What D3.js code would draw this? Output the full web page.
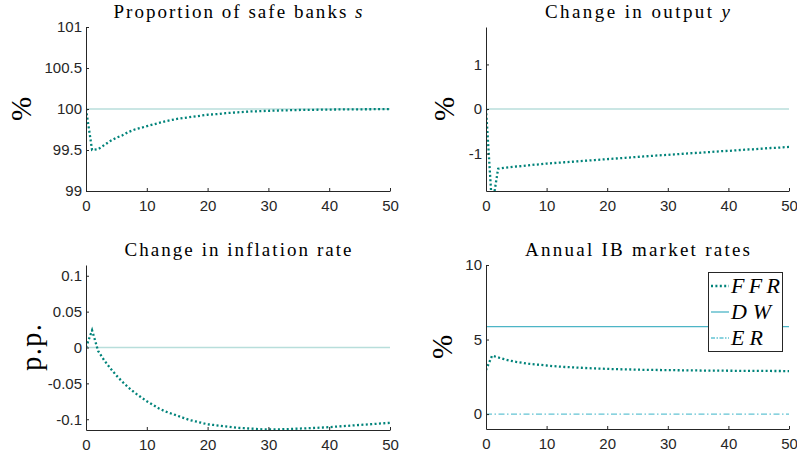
<!DOCTYPE html>
<html>
<head>
<meta charset="utf-8">
<script src="https://cdn.jsdelivr.net/npm/d3@7"></script>
<style>
  html, body { margin: 0; padding: 0; background: #fff; }
  svg { display: block; }
  .tick-label { font-family: "Liberation Sans", Arial, Helvetica, sans-serif; font-size: 15px; fill: #262626; }
  .title { font-family: "Liberation Serif", "DejaVu Serif", serif; font-size: 19px; fill: #000; }
  .ylab { font-family: "Liberation Serif", "DejaVu Serif", serif; font-size: 29px; fill: #000; }
  .leg { font-family: "Liberation Serif", "DejaVu Serif", serif; font-style: italic; font-size: 22px; fill: #000; }
</style>
</head>
<body>
<svg id="chart" width="797" height="459"></svg>
<script>
// Horizon (quarters after the shock)
const horizon = d3.range(0, 51);

// Proportion of safe banks, % of steady state
const safeBanks = [100, 99.50, 99.51, 99.56, 99.61, 99.65, 99.68, 99.72, 99.75, 99.77,
  99.79, 99.81, 99.83, 99.85, 99.865, 99.88, 99.89, 99.90, 99.91, 99.92,
  99.93, 99.935, 99.94, 99.95, 99.955, 99.96, 99.965, 99.97, 99.972, 99.975,
  99.978, 99.98, 99.982, 99.984, 99.986, 99.988, 99.989, 99.99, 99.991, 99.992,
  99.993, 99.994, 99.995, 99.995, 99.996, 99.996, 99.997, 99.997, 99.998, 99.998, 99.999];
const safeBanksSteady = 100;

// Change in output, %
const output = [0, -2.2, -1.34, -1.32, -1.305, -1.29, -1.28, -1.265, -1.25, -1.24,
  -1.225, -1.215, -1.205, -1.195, -1.185, -1.175, -1.165, -1.155, -1.145, -1.135,
  -1.125, -1.115, -1.105, -1.095, -1.085, -1.075, -1.065, -1.055, -1.045, -1.035,
  -1.03, -1.02, -1.01, -1.0, -0.99, -0.985, -0.975, -0.965, -0.955, -0.945,
  -0.94, -0.93, -0.92, -0.91, -0.905, -0.895, -0.885, -0.875, -0.87, -0.86, -0.85];
const outputSteady = 0;

// Change in inflation rate, percentage points
const inflation = [0, 0.024, -0.005, -0.018, -0.029, -0.039, -0.048, -0.056, -0.063, -0.069,
  -0.075, -0.080, -0.085, -0.089, -0.092, -0.095, -0.098, -0.101, -0.103, -0.105,
  -0.107, -0.108, -0.109, -0.110, -0.111, -0.112, -0.1125, -0.113, -0.1135, -0.114,
  -0.114, -0.114, -0.114, -0.1138, -0.1135, -0.113, -0.1127, -0.1123, -0.112, -0.1115,
  -0.111, -0.1104, -0.1098, -0.1092, -0.1086, -0.108, -0.1074, -0.1068, -0.1062, -0.1056, -0.105];
const inflationSteady = 0;

// Annual interbank market rates, %
const ffr = [2.95, 3.92, 3.80, 3.68, 3.58, 3.50, 3.44, 3.38, 3.34, 3.30,
  3.26, 3.22, 3.19, 3.16, 3.14, 3.12, 3.10, 3.08, 3.06, 3.05,
  3.03, 3.02, 3.01, 3.00, 2.99, 2.98, 2.97, 2.965, 2.96, 2.955,
  2.95, 2.945, 2.94, 2.935, 2.93, 2.925, 2.92, 2.917, 2.914, 2.911,
  2.908, 2.905, 2.902, 2.90, 2.898, 2.896, 2.894, 2.892, 2.89, 2.888, 2.886];
const dwRate = 5.86;
const erRate = 0;

// Axis ticks
const xTicks = [0, 10, 20, 30, 40, 50];
const safeTicks = [99, 99.5, 100, 100.5, 101];
const outputTicks = [-1, 0, 1];
const inflationTicks = [-0.1, -0.05, 0, 0.05, 0.1];
const ratesTicks = [0, 5, 10];

const titles = ["Proportion of safe banks ", "Change in output ", "Change in inflation rate", "Annual IB market rates"];
const titleVars = ["s", "y", "", ""];
const yUnits = ["%", "%", "p.p.", "%"];
const legendLabels = ["FFR", "DW", "ER"];

const col = { ffr: "#00837a", steady: "#b8dedb", dw: "#4db5c6", er: "#63c3d3", axis: "#262626" };

const svg = d3.select("#chart");

const panels = [
  { box: [86, 390, 27, 191], ydom: [99, 101], ticks: safeTicks, series: safeBanks, steady: safeBanksSteady, ylabX: 22, titleW: 249 },
  { box: [486, 789, 27, 191], ydom: [-1.84, 1.84], ticks: outputTicks, series: output, steady: outputSteady, ylabX: 445, titleW: 185 },
  { box: [86, 390, 265, 430], ydom: [-0.115, 0.115], ticks: inflationTicks, series: inflation, steady: inflationSteady, ylabX: 32, titleW: 227 },
  { box: [486, 789, 265, 429], ydom: [-1, 10], ticks: ratesTicks, series: ffr, steady: null, ylabX: 443, titleW: 225 }
];

panels.forEach((p, i) => {
  const [x0, x1, y0, y1] = p.box;
  const x = d3.scaleLinear().domain([0, 50]).range([x0, x1]);
  const y = d3.scaleLinear().domain(p.ydom).range([y1, y0]);
  const g = svg.append("g");

  const clipId = "clip" + i;
  svg.append("clipPath").attr("id", clipId)
    .append("rect").attr("x", x0).attr("y", y0).attr("width", x1 - x0 + 1).attr("height", y1 - y0);

  const plot = g.append("g").attr("clip-path", `url(#${clipId})`);
  const line = d3.line().x((d, k) => x(horizon[k])).y(d => y(d));

  if (p.steady !== null) {
    plot.append("path")
      .attr("d", line(horizon.map(() => p.steady)))
      .attr("fill", "none").attr("stroke", col.steady).attr("stroke-width", 1.5);
  } else {
    const flat = v => d3.line()([[x(0), y(v)], [x(50), y(v)]]);
    plot.append("path").attr("d", flat(erRate))
      .attr("fill", "none").attr("stroke", col.er).attr("stroke-width", 1.3)
      .attr("stroke-dasharray", "6,2.5,1.5,2.5");
    plot.append("path").attr("d", flat(dwRate))
      .attr("fill", "none").attr("stroke", col.dw).attr("stroke-width", 1.3);
  }

  plot.append("path")
    .attr("d", line(p.series))
    .attr("fill", "none").attr("stroke", col.ffr).attr("stroke-width", 2.3)
    .attr("stroke-dasharray", "2,2.4");

  // Axes: left and bottom, ticks pointing inward
  const xAxis = d3.axisBottom(x).tickValues(xTicks).tickSizeInner(-3).tickSizeOuter(0).tickPadding(8).tickFormat(d3.format("d"));
  const yAxis = d3.axisLeft(y).tickValues(p.ticks).tickSizeInner(-3).tickSizeOuter(0).tickPadding(8).tickFormat(d => String(d));

  const gx = g.append("g").attr("transform", `translate(0,${y1})`).call(xAxis);
  const gy = g.append("g").attr("transform", `translate(${x0},0)`).call(yAxis);
  [gx, gy].forEach(a => {
    a.attr("font-size", null).attr("font-family", null);
    a.select(".domain").attr("stroke", col.axis).attr("stroke-width", 1);
    a.selectAll(".tick line").attr("stroke", col.axis);
    a.selectAll(".tick text").attr("class", "tick-label");
  });
  gy.selectAll(".tick text").attr("x", -4);
  gx.selectAll(".tick text").attr("dy", "0.8em");

  // Title
  const t = g.append("text").attr("class", "title")
    .attr("x", (x0 + x1) / 2).attr("y", y0 - 9.5).attr("text-anchor", "middle")
    .attr("textLength", p.titleW).attr("lengthAdjust", "spacing");
  t.append("tspan").text(titles[i]);
  if (titleVars[i]) t.append("tspan").attr("font-style", "italic").text(titleVars[i]);

  // Unit label
  const yl = g.append("text").attr("class", "ylab")
    .attr("transform", `translate(${p.ylabX + 9},${(y0 + y1) / 2}) rotate(-90)`)
    .attr("text-anchor", "middle").text(yUnits[i]);
  if (yUnits[i] === "p.p.") yl.attr("textLength", 47).attr("lengthAdjust", "spacing");

  if (i === 3) {
    const lg = g.append("g");
    lg.append("rect").attr("x", 708.5).attr("y", 272.5).attr("width", 74).attr("height", 79)
      .attr("fill", "#fff").attr("stroke", col.axis).attr("stroke-width", 1);
    const styles = [
      { stroke: col.ffr, dash: "2,2.4", w: 2.3, len: 49 },
      { stroke: col.dw, dash: null, w: 1.3, len: 40 },
      { stroke: col.er, dash: "4,1.5,1.5,1.5", w: 1.3, len: 32 }
    ];
    legendLabels.forEach((lab, k) => {
      const cy = 286 + k * 26;
      lg.append("line").attr("x1", 711).attr("x2", 729).attr("y1", cy).attr("y2", cy)
        .attr("stroke", styles[k].stroke).attr("stroke-width", styles[k].w)
        .attr("stroke-dasharray", styles[k].dash);
      lg.append("text").attr("class", "leg").attr("x", 731).attr("y", cy + 7)
        .attr("textLength", styles[k].len).attr("lengthAdjust", "spacing").text(lab);
    });
  }
});
</script>
</body>
</html>
